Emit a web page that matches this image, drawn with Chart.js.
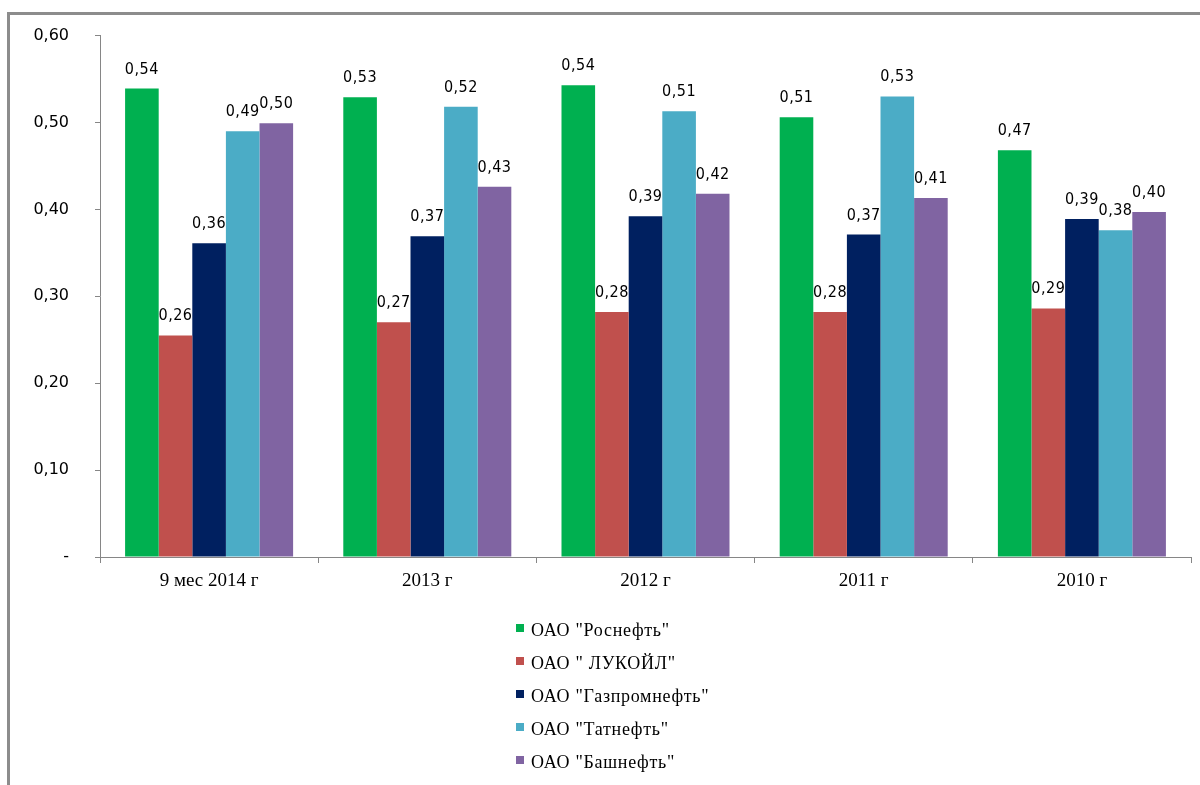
<!DOCTYPE html>
<html>
<head>
<meta charset="utf-8">
<script src="https://cdn.jsdelivr.net/npm/chart.js@4"></script>
<style>
html,body{margin:0;padding:0;background:#fff;}
#wrap{width:1200px;height:785px;position:relative;}
</style>
</head>
<body>
<div id="wrap"><canvas id="c" width="1200" height="785"></canvas></div>
<script>
const categories = ['9 мес 2014 г', '2013 г', '2012 г', '2011 г', '2010 г'];
const seriesNames = ['ОАО "Роснефть"', 'ОАО " ЛУКОЙЛ"', 'ОАО "Газпромнефть"', 'ОАО "Татнефть"', 'ОАО "Башнефть"'];
const rosneft   = [0.539, 0.529, 0.543, 0.506, 0.468];
const lukoil    = [0.255, 0.270, 0.282, 0.282, 0.286];
const gazprom   = [0.361, 0.369, 0.392, 0.371, 0.389];
const tatneft   = [0.490, 0.518, 0.513, 0.530, 0.376];
const bashneft  = [0.499, 0.426, 0.418, 0.413, 0.397];
const yTicks = [0, 0.1, 0.2, 0.3, 0.4, 0.5, 0.6];
const colors = ['#00B050', '#C0504D', '#002060', '#4BACC6', '#8064A2'];

const seriesValues = [rosneft, lukoil, gazprom, tatneft, bashneft];

function fmt(v){ return v.toFixed(2).replace('.', ','); }

const frame = {
  id: 'frame',
  beforeDraw(chart){
    const ctx = chart.ctx;
    ctx.save();
    ctx.fillStyle = '#fff';
    ctx.fillRect(0,0,chart.width,chart.height);
    ctx.strokeStyle = '#8c8c8c';
    ctx.lineWidth = 3;
    ctx.beginPath();
    ctx.moveTo(8.5, 785);
    ctx.lineTo(8.5, 13.5);
    ctx.lineTo(1200, 13.5);
    ctx.stroke();
    ctx.restore();
  }
};

const barLabels = {
  id: 'barLabels',
  afterDatasetsDraw(chart){
    const ctx = chart.ctx;
    ctx.save();
    ctx.font = "16px 'Liberation Sans Narrow', 'DejaVu Sans Condensed', sans-serif";
    try { ctx.letterSpacing = '0.5px'; } catch(e){}
    ctx.fillStyle = '#000';
    ctx.textAlign = 'center';
    ctx.textBaseline = 'alphabetic';
    chart.data.datasets.forEach((ds, i) => {
      const meta = chart.getDatasetMeta(i);
      meta.data.forEach((bar, j) => {
        ctx.fillText(fmt(ds.data[j]), bar.x, bar.y - 15);
      });
    });
    ctx.restore();
  }
};

const customLegend = {
  id: 'customLegend',
  afterDraw(chart){
    const ctx = chart.ctx;
    ctx.save();
    ctx.font = "18px 'Liberation Serif', serif";
    try { ctx.letterSpacing = '0.7px'; } catch(e){}
    ctx.textBaseline = 'middle';
    ctx.textAlign = 'left';
    chart.data.datasets.forEach((ds, i) => {
      const y = 631 + i * 33;
      ctx.fillStyle = ds.backgroundColor;
      ctx.fillRect(516, y - 7, 8, 8);
      ctx.fillStyle = '#000';
      ctx.fillText(ds.label, 531, y);
    });
    ctx.restore();
  }
};

new Chart(document.getElementById('c'), {
  type: 'bar',
  data: {
    labels: categories,
    datasets: seriesNames.map((n, i) => ({
      label: n,
      data: seriesValues[i],
      backgroundColor: colors[i],
      borderWidth: 0,
      categoryPercentage: 0.77,
      barPercentage: 1.0
    }))
  },
  options: {
    responsive: false,
    animation: false,
    devicePixelRatio: 1,
    layout: { padding: { left: 0, right: 9, top: 35, bottom: 0 } },
    plugins: {
      legend: { display: false },
      tooltip: { enabled: false }
    },
    scales: {
      x: {
        grid: { display: true, drawOnChartArea: false, drawTicks: true, tickLength: 6, color: '#868686', offset: true },
        border: { display: true, color: '#868686', width: 1 },
        ticks: { color: '#000', font: { family: "'Liberation Serif', serif", size: 19 }, padding: 7, maxRotation: 0 },
        afterFit(scale){ scale.height = 228; }
      },
      y: {
        min: 0, max: 0.6,
        afterBuildTicks(scale){ scale.ticks = yTicks.map(v => ({ value: v })); },
        grid: { display: true, drawOnChartArea: false, drawTicks: true, tickLength: 5, color: '#868686' },
        border: { display: true, color: '#868686', width: 1 },
        ticks: {
          color: '#000',
          font: { family: "'DejaVu Sans', sans-serif", size: 16 },
          padding: 26,
          callback: (v) => v === 0 ? '-' : fmt(v)
        },
        afterFit(scale){ scale.width = 100; }
      }
    }
  },
  plugins: [frame, barLabels, customLegend]
});
</script>
</body>
</html>
